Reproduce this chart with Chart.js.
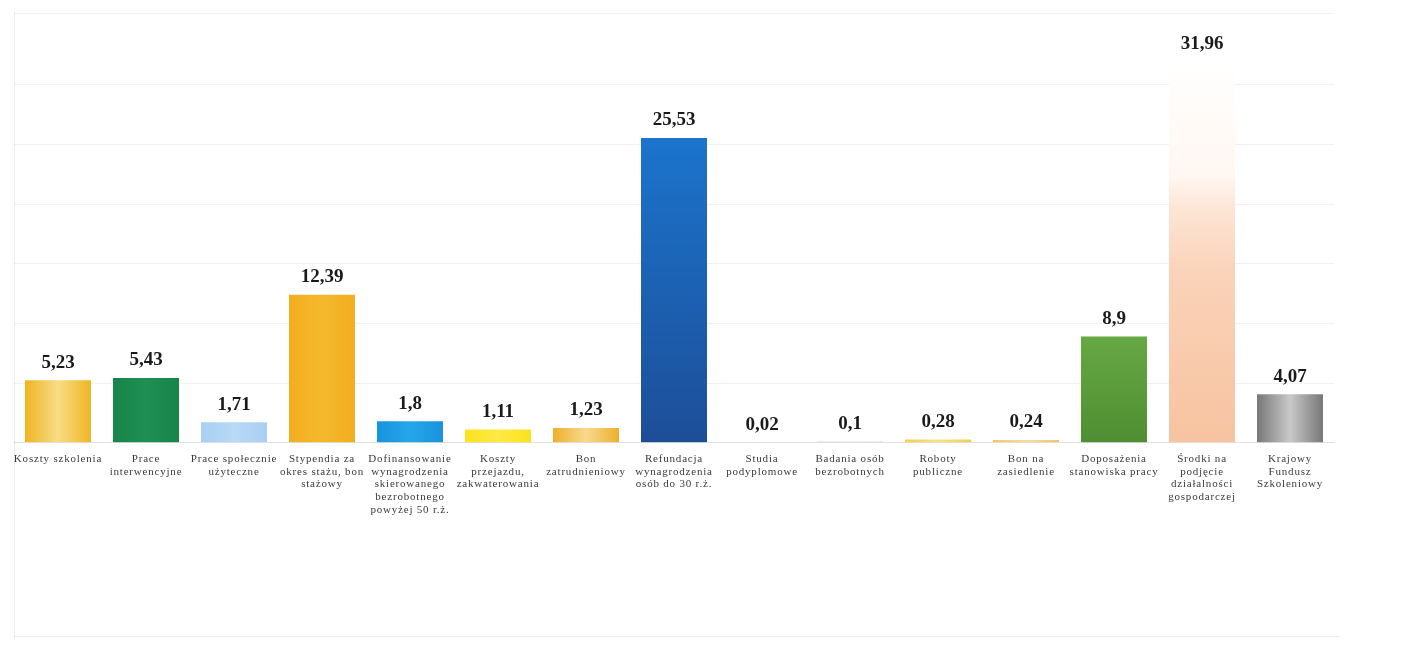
<!DOCTYPE html>
<html>
<head>
<meta charset="utf-8">
<script src="https://cdn.jsdelivr.net/npm/chart.js@4.4.1/dist/chart.umd.min.js"></script>
<style>
  html, body { margin: 0; padding: 0; background: #fff; }
  #wrap { width: 1410px; height: 652px; position: relative; }
</style>
</head>
<body>
<div id="wrap"><canvas id="chart"></canvas></div>
<script>
// categories (multi-line labels as in the scan)
const categories = [
  ['Koszty szkolenia'],
  ['Prace', 'interwencyjne'],
  ['Prace społecznie', 'użyteczne'],
  ['Stypendia za', 'okres stażu, bon', 'stażowy'],
  ['Dofinansowanie', 'wynagrodzenia', 'skierowanego', 'bezrobotnego', 'powyżej 50 r.ż.'],
  ['Koszty', 'przejazdu,', 'zakwaterowania'],
  ['Bon', 'zatrudnieniowy'],
  ['Refundacja', 'wynagrodzenia', 'osób do 30 r.ż.'],
  ['Studia', 'podyplomowe'],
  ['Badania osób', 'bezrobotnych'],
  ['Roboty', 'publiczne'],
  ['Bon na', 'zasiedlenie'],
  ['Doposażenia', 'stanowiska pracy'],
  ['Środki na', 'podjęcie', 'działalności', 'gospodarczej'],
  ['Krajowy', 'Fundusz', 'Szkoleniowy']
];
const values = [5.23, 5.43, 1.71, 12.39, 1.8, 1.11, 1.23, 25.53, 0.02, 0.1, 0.28, 0.24, 8.9, 31.96, 4.07];
const valueLabels = ['5,23', '5,43', '1,71', '12,39', '1,8', '1,11', '1,23', '25,53', '0,02', '0,1', '0,28', '0,24', '8,9', '31,96', '4,07'];

// bar fills: [edge colour, centre colour, direction]
const fills = [
  ['#efb522', '#f8dc86', 'h'],
  ['#17844a', '#1f8f52', 'h'],
  ['#a8cff3', '#b9d9f6', 'h'],
  ['#f2ae1f', '#f5b82c', 'h'],
  ['#1893dc', '#25a6ea', 'h'],
  ['#fbe21c', '#fdea44', 'h'],
  ['#eeb02b', '#f8d98e', 'h'],
  ['#1d4e98', '#1b74cc', 'v'],
  ['#d8d8d8', '#e4e4e4', 'h'],
  ['#d8d8d8', '#e4e4e4', 'h'],
  ['#f4cf4f', '#f8e08c', 'h'],
  ['#efc768', '#f6dc9e', 'h'],
  ['#4f8e33', '#66a843', 'v'],
  ['#f7c3a0', '#ffffff', 'v'],
  ['#777777', '#c9c9c9', 'h']
];

function barFill(ctx) {
  const chart = ctx.chart;
  const i = ctx.dataIndex;
  const f = fills[i];
  const xs = chart.scales.x, ys = chart.scales.y;
  if (!xs || !ys || !chart.chartArea) return f[0];
  const cx = xs.getPixelForValue(i);
  const half = (chart.chartArea.width / values.length) * 0.75 / 2;
  const base = ys.getPixelForValue(0);
  const top = ys.getPixelForValue(values[i]);
  if (![cx, half, base, top].every(Number.isFinite) || base === top) return f[0];
  const c = chart.ctx;
  let g;
  if (f[2] === 'h') {
    g = c.createLinearGradient(cx - half, 0, cx + half, 0);
    g.addColorStop(0, f[0]);
    g.addColorStop(0.5, f[1]);
    g.addColorStop(1, f[0]);
  } else {
    g = c.createLinearGradient(0, base, 0, top);
    g.addColorStop(0, f[0]);
    if (i === 13) {
      // scan washes the upper part of this bar out almost to white
      g.addColorStop(0.45, '#fad3b9');
      g.addColorStop(0.62, '#fde6d7');
      g.addColorStop(0.7, '#fff7f1');
    }
    g.addColorStop(1, f[1]);
  }
  return g;
}

const valueLabelPlugin = {
  id: 'valueLabels',
  beforeDraw(chart) {
    chart.ctx.letterSpacing = '0.8px';
  },
  afterDatasetsDraw(chart) {
    const c = chart.ctx;
    const meta = chart.getDatasetMeta(0);
    c.save();
    c.letterSpacing = '0px';
    c.font = 'bold 19px "Liberation Serif", "DejaVu Serif", serif';
    c.fillStyle = '#1a1a1a';
    c.textAlign = 'center';
    c.textBaseline = 'bottom';
    meta.data.forEach((bar, i) => {
      c.fillText(valueLabels[i], bar.x, bar.y - 8);
    });
    c.restore();
  }
};

const framePlugin = {
  id: 'frame',
  beforeDraw(chart) {
    const c = chart.ctx;
    c.save();
    c.strokeStyle = 'rgba(0,0,0,0.07)';
    c.lineWidth = 1;
    c.beginPath();
    c.moveTo(14.5, 12);
    c.lineTo(14.5, 640);
    c.moveTo(14, 636.5);
    c.lineTo(1340, 636.5);
    c.stroke();
    c.restore();
  }
};

new Chart(document.getElementById('chart'), {
  type: 'bar',
  data: {
    labels: categories,
    datasets: [{
      data: values,
      backgroundColor: barFill,
      barPercentage: 0.75,
      categoryPercentage: 1
    }]
  },
  options: {
    responsive: true,
    maintainAspectRatio: false,
    animation: false,
    layout: { padding: { left: 14, right: 76, top: 13, bottom: 134 } },
    plugins: { legend: { display: false }, tooltip: { enabled: false } },
    scales: {
      x: {
        grid: { display: false },
        border: { color: 'rgba(0,0,0,0.08)' },
        ticks: {
          color: '#3a3a3a',
          maxRotation: 0,
          autoSkip: false,
          padding: 2,
          font: { family: '"Liberation Serif", "DejaVu Serif", serif', size: 11, lineHeight: 1.15 }
        }
      },
      y: {
        display: true,
        min: 0,
        max: 36,
        ticks: { display: false, stepSize: 5 },
        border: { display: false },
        grid: { color: 'rgba(0,0,0,0.05)', drawTicks: false }
      }
    }
  },
  plugins: [valueLabelPlugin, framePlugin]
});
</script>
</body>
</html>
